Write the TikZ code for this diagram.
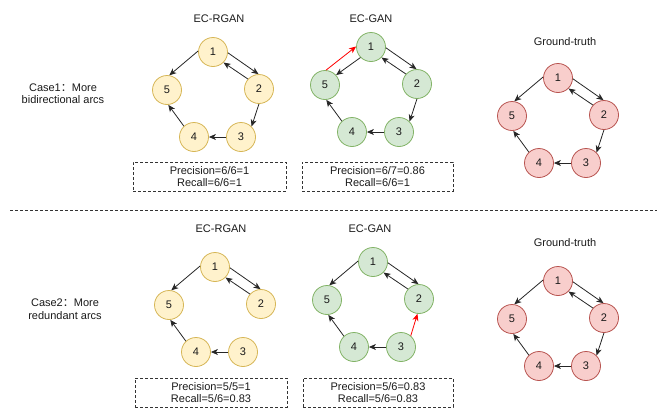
\documentclass[tikz,border=0pt]{standalone}
\usepackage{fontspec}
\setmainfont{Liberation Sans}
\newfontfamily\cjk{Noto Sans CJK SC}
\usetikzlibrary{arrows.meta}
\definecolor{yfill}{HTML}{FFF2CC}
\definecolor{ydraw}{HTML}{D6B656}
\definecolor{gfill}{HTML}{D5E8D4}
\definecolor{gdraw}{HTML}{82B366}
\definecolor{rfill}{HTML}{F8CECC}
\definecolor{rdraw}{HTML}{B85450}
\definecolor{txt}{HTML}{1A1A1A}
\newcommand{\pentagon}[4]{%
  \node[#2] (#11) at (#3,#4) {1};
  \node[#2] (#12) at (#3+46,#4+37) {2};
  \node[#2] (#13) at (#3+28,#4+85) {3};
  \node[#2] (#14) at (#3-19,#4+85) {4};
  \node[#2] (#15) at (#3-46,#4+38) {5};
}
\begin{document}
\begin{tikzpicture}[x=1pt,y=-1pt,
  every node/.style={font=\fontsize{11}{12.5}\selectfont, text=txt},
  vnode/.style={circle, minimum size=29pt, inner sep=0pt, line width=0.8pt},
  ynode/.style={vnode, fill=yfill, draw=ydraw},
  gnode/.style={vnode, fill=gfill, draw=gdraw},
  rnode/.style={vnode, fill=rfill, draw=rdraw},
  arr/.style={line width=0.8pt, draw=black!85, -{Stealth[length=7pt,width=6pt,inset=2pt]}},
  redarr/.style={arr, draw=red, -{Stealth[length=7pt,width=6pt,inset=2pt,fill=red]}},
  dbox/.style={draw=black!80, dash pattern=on 3pt off 2pt, line width=0.8pt, minimum height=29pt, align=center, inner sep=0pt},
  title/.style={align=center},
]
\useasboundingbox (0,0) rectangle (660,418);

% labels
\node[title] (case1) at (63,93.5) {Case1{\cjk ：}More\\bidirectional arcs};
\node[title] (case2) at (65,309) {Case2{\cjk ：}More\\redundant arcs};

\node[title] (t1) at (219,19) {EC-RGAN};
\node[title] (t2) at (371,19) {EC-GAN};
\node[title] (t3) at (565,42) {Ground-truth};
\node[title] (t4) at (221,229) {EC-RGAN};
\node[title] (t5) at (370,229) {EC-GAN};
\node[title] (t6) at (565,243) {Ground-truth};

% separator
\coordinate (sepL) at (10,210);
\coordinate (sepR) at (657,210);
\draw[black!80, dash pattern=on 3pt off 2pt, line width=0.8pt] (sepL) -- (sepR);

% graphs
\pentagon{a}{ynode}{213}{52}
\pentagon{b}{gnode}{371}{47}
\pentagon{c}{rnode}{558}{78}
\pentagon{d}{ynode}{215}{267}
\pentagon{e}{gnode}{373}{262}
\pentagon{f}{rnode}{558}{281}

% Case1 EC-RGAN
\draw[arr] (a1.176) -- (a5.81);
\draw[arr] (a1.-3) -- (a2.92);
\draw[arr] (a2.138) -- (a1.-45);
\draw[arr] (a2.-90) -- (a3.45);
\draw[arr] (a3.180) -- (a4.0);
\draw[arr] (a4.133) -- (a5.-85);

% Case1 EC-GAN
\draw[redarr] (b5.86) -- (b1.178);
\draw[arr] (b1.225) -- (b5.42);
\draw[arr] (b1.-3) -- (b2.92);
\draw[arr] (b2.138) -- (b1.-45);
\draw[arr] (b2.-90) -- (b3.45);
\draw[arr] (b3.180) -- (b4.0);
\draw[arr] (b4.133) -- (b5.-85);

% Case1 Ground truth
\draw[arr] (c1.176) -- (c5.81);
\draw[arr] (c1.-3) -- (c2.92);
\draw[arr] (c2.138) -- (c1.-45);
\draw[arr] (c2.-90) -- (c3.45);
\draw[arr] (c3.180) -- (c4.0);
\draw[arr] (c4.133) -- (c5.-85);

% Case2 EC-RGAN
\draw[arr] (d1.176) -- (d5.81);
\draw[arr] (d1.-3) -- (d2.92);
\draw[arr] (d2.138) -- (d1.-45);
\draw[arr] (d3.180) -- (d4.0);
\draw[arr] (d4.133) -- (d5.-85);

% Case2 EC-GAN
\draw[arr] (e1.176) -- (e5.81);
\draw[arr] (e1.-3) -- (e2.92);
\draw[arr] (e2.138) -- (e1.-45);
\draw[redarr] (e3.49) -- (e2.-96);
\draw[arr] (e3.180) -- (e4.0);
\draw[arr] (e4.133) -- (e5.-85);

% Case2 Ground truth
\draw[arr] (f1.176) -- (f5.81);
\draw[arr] (f1.-3) -- (f2.92);
\draw[arr] (f2.138) -- (f1.-45);
\draw[arr] (f2.-90) -- (f3.45);
\draw[arr] (f3.180) -- (f4.0);
\draw[arr] (f4.133) -- (f5.-85);

% metric boxes
\node[dbox, minimum width=153pt] (m1) at (209.5,176.5) {Precision=6/6=1\\Recall=6/6=1};
\node[dbox, minimum width=151pt] (m2) at (377.5,176.5) {Precision=6/7=0.86\\Recall=6/6=1};
\node[dbox, minimum width=152pt] (m3) at (211,392.5) {Precision=5/5=1\\Recall=5/6=0.83};
\node[dbox, minimum width=150pt] (m4) at (378,392.5) {Precision=5/6=0.83\\Recall=5/6=0.83};
\end{tikzpicture}
\end{document}
